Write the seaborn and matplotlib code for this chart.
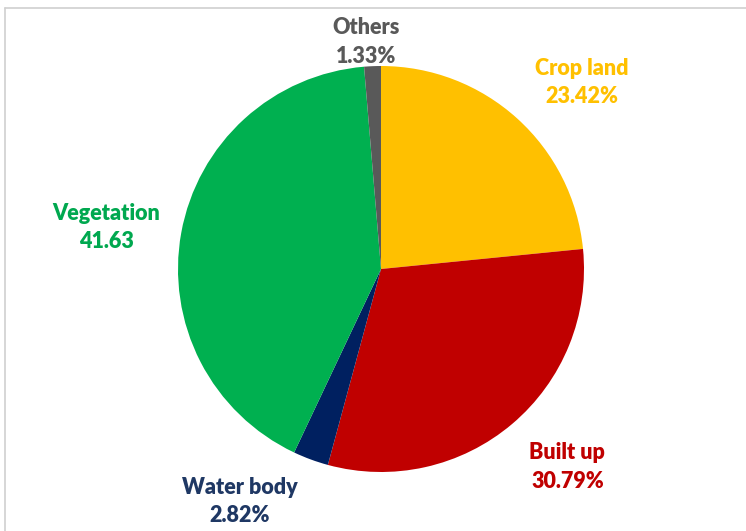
import matplotlib
matplotlib.use("Agg")
import matplotlib.pyplot as plt
import seaborn as sns
import numpy as np

# Land use / land cover shares (%)
categories = ["Crop land", "Built up", "Water body", "Vegetation", "Others"]
shares = [23.42, 30.79, 2.82, 41.63, 1.33]
value_labels = ["23.42%", "30.79%", "2.82%", "41.63", "1.33%"]
wedge_colors = ["#FFC000", "#C00000", "#002060", "#00B050", "#595959"]
text_colors = ["#FFC000", "#C00000", "#1F3864", "#00A84F", "#595959"]

# label placement: distance from centre (in radii) and angular nudge (deg)
label_dist = [1.35, 1.34, 1.34, 1.37, 1.12]
label_nudge = [-5.0, 3.0, -11.0, 1.7, 1.4]

sns.set_theme(style="white")
plt.rcParams["font.family"] = ["Lato", "DejaVu Sans"]

W, H = 746, 531
fig = plt.figure(figsize=(W / 100, H / 100), dpi=100)
fig.patch.set_facecolor("white")

# light frame along the top and left edges
fig.add_artist(plt.Line2D([5 / W, 1], [1 - 8 / H, 1 - 8 / H], color="#D0D0D0", lw=1.2))
fig.add_artist(plt.Line2D([5 / W, 5 / W], [0, 1 - 8 / H], color="#D0D0D0", lw=1.2))

cx, cy, r = 381, 269, 203
ax = fig.add_axes([(cx - r) / W, (H - cy - r) / H, 2 * r / W, 2 * r / H])

wedges, _ = ax.pie(
    shares,
    colors=wedge_colors,
    startangle=90,
    counterclock=False,
    radius=1.0,
    wedgeprops=dict(linewidth=0),
)
ax.set_xlim(-1, 1)
ax.set_ylim(-1, 1)
ax.set_aspect("equal")
ax.axis("off")

for w, name, val, col, d, nudge in zip(wedges, categories, value_labels,
                                       text_colors, label_dist, label_nudge):
    mid = np.deg2rad((w.theta1 + w.theta2) / 2 + nudge)
    ax.text(d * np.cos(mid), d * np.sin(mid), f"{name}\n{val}",
            ha="center", va="center", color=col, fontsize=15.5,
            fontweight="heavy", linespacing=1.45, clip_on=False)

fig.savefig("out.png", dpi=100, facecolor="white")
